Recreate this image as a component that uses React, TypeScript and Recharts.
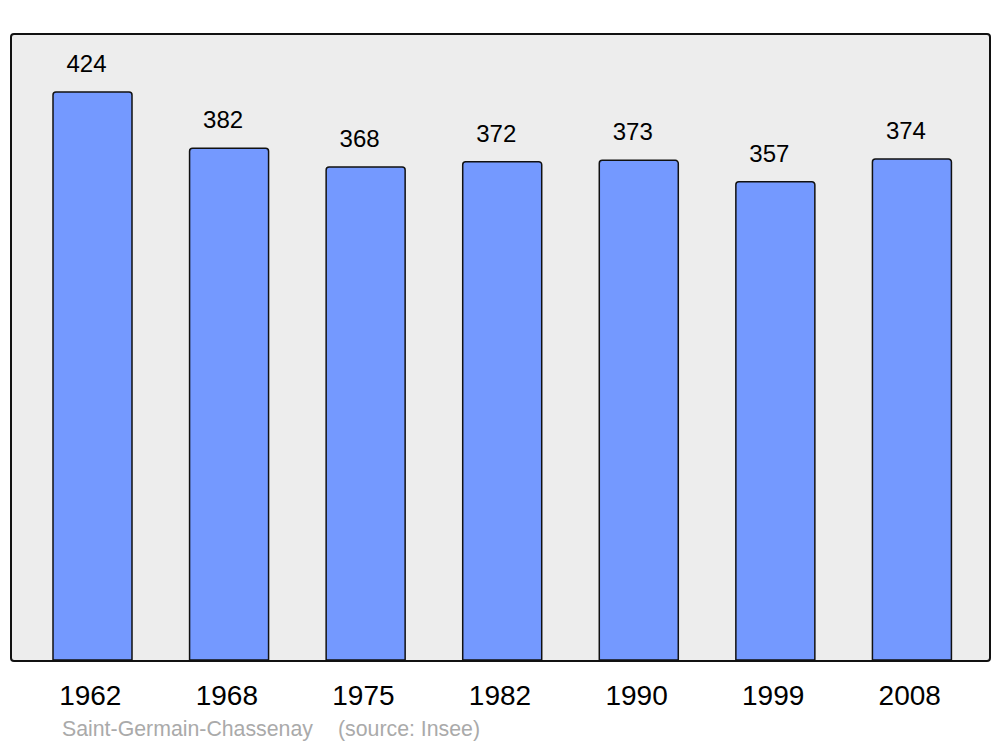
import React from "react";
import { BarChart, Bar, XAxis, YAxis, LabelList } from "recharts";

const years = ["1962", "1968", "1975", "1982", "1990", "1999", "2008"];
const population = [424, 382, 368, 372, 373, 357, 374];

const data = years.map((y, i) => ({ year: y, pop: population[i] }));

const FONT = "'Liberation Sans', Arial, sans-serif";

export default function App() {
  return (
    <div style={{ position: "absolute", left: 0, top: 0, width: 1000, height: 747, background: "#fff" }}>
      <div
        style={{
          position: "absolute",
          left: 9.5,
          top: 32.5,
          width: 981,
          height: 629,
          boxSizing: "border-box",
          border: "2.5px solid #111",
          borderRadius: 4,
          background: "#ededed",
        }}
      />
      <div style={{ position: "absolute", left: 0, top: 0 }}>
        <BarChart
          width={1000}
          height={747}
          data={data}
          margin={{ top: 34, right: 11, left: 11, bottom: 57 }}
        >
          <XAxis
            dataKey="year"
            height={30}
            axisLine={false}
            tickLine={false}
            tickSize={0}
            tickMargin={25}
            padding={{ left: 13, right: 9 }}
            tick={{ fontSize: 28, fill: "#000", fontFamily: FONT, dx: -2 }}
            interval={0}
          />
          <YAxis hide domain={[0, 467.3]} />
          <Bar
            dataKey="pop"
            fill="#7499ff"
            stroke="#111"
            strokeWidth={1.5}
            barSize={79}
            radius={[3, 3, 0, 0]}
            isAnimationActive={false}
          >
            <LabelList
              dataKey="pop"
              position="top"
              offset={20}
              dx={-6}
              style={{ fontSize: 24, fill: "#000", fontFamily: FONT }}
            />
          </Bar>
        </BarChart>
      </div>
      <div
        style={{
          position: "absolute",
          left: 62,
          top: 716,
          fontFamily: FONT,
          fontSize: 21.3,
          color: "#aaaaaa",
          whiteSpace: "pre",
          lineHeight: "26px",
        }}
      >
        Saint-Germain-Chassenay
      </div>
      <div
        style={{
          position: "absolute",
          left: 338,
          top: 716,
          fontFamily: FONT,
          fontSize: 21.3,
          color: "#aaaaaa",
          whiteSpace: "pre",
          lineHeight: "26px",
        }}
      >
        (source: Insee)
      </div>
    </div>
  );
}
